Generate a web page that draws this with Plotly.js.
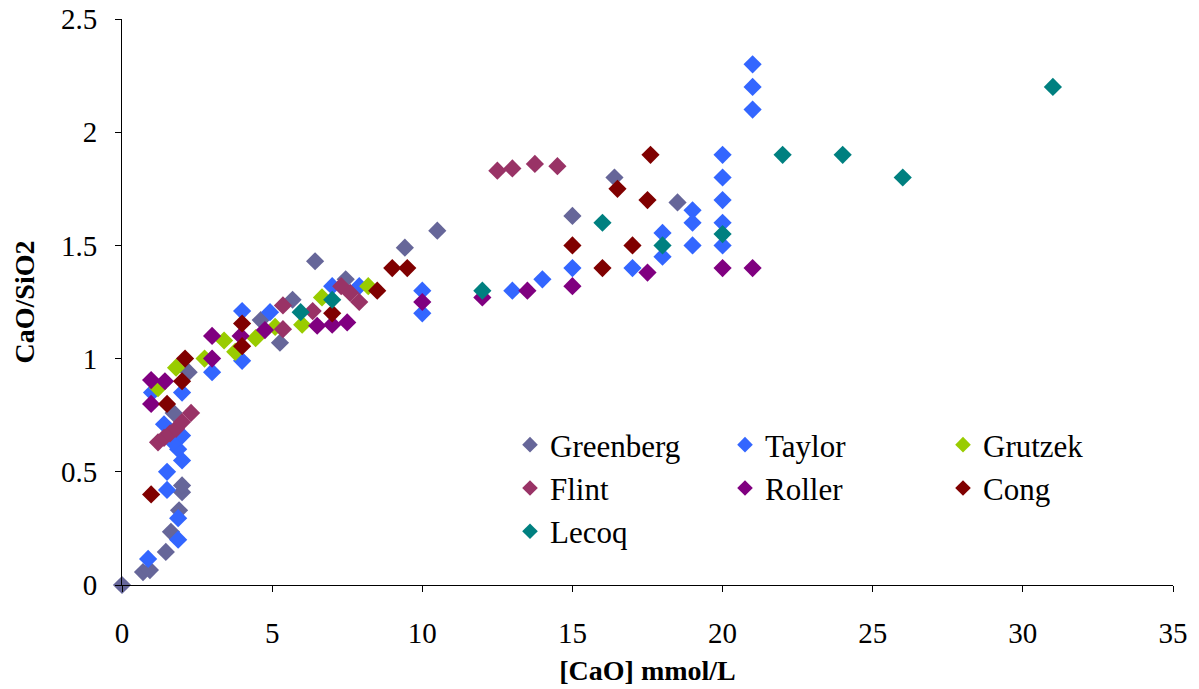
<!DOCTYPE html>
<html>
<head>
<meta charset="utf-8">
<script src="https://cdn.plot.ly/plotly-3.0.1.min.js"></script>
<style>
html,body{margin:0;padding:0;background:#fff;}
#chart{width:1199px;height:689px;}
#chart svg text{font-family:'Liberation Serif','Times New Roman',Times,serif !important;}
</style>
</head>
<body>
<div id="chart"></div>
<script>
// ---- Data ----
const seriesNames = ["Greenberg", "Taylor", "Grutzek", "Flint", "Roller", "Cong", "Lecoq"];

const greenbergX = [0, 0.7, 0.93, 1.46, 1.63, 1.9, 2.0, 2.0, 1.72, 2.22, 4.62, 5.26, 5.68, 6.43, 7.45, 9.42, 10.5, 15.0, 16.4, 18.5];
const greenbergY = [0, 0.057, 0.066, 0.146, 0.235, 0.33, 0.41, 0.44, 0.76, 0.94, 1.17, 1.07, 1.26, 1.43, 1.35, 1.49, 1.565, 1.63, 1.80, 1.69];

const taylorX = [0.87, 1.87, 1.87, 1.5, 1.5, 2.0, 1.87, 1.7, 2.0, 1.4, 2.0, 1.0, 3.0, 4.0, 4.0, 4.93, 7.0, 7.9, 10, 10, 13, 14, 15, 17, 18, 18, 19, 19, 19, 20, 20, 20, 20, 20, 21, 21, 21];
const taylorY = [0.115, 0.2, 0.295, 0.42, 0.5, 0.55, 0.6, 0.63, 0.66, 0.71, 0.85, 0.85, 0.94, 1.21, 0.99, 1.205, 1.32, 1.32, 1.30, 1.20, 1.30, 1.35, 1.40, 1.40, 1.555, 1.45, 1.655, 1.60, 1.50, 1.90, 1.80, 1.70, 1.60, 1.50, 2.30, 2.20, 2.10];

const grutzekX = [1.2, 1.8, 2.75, 3.4, 3.77, 4.45, 5.1, 6.0, 6.66, 8.2];
const grutzekY = [0.87, 0.96, 1.0, 1.08, 1.03, 1.09, 1.14, 1.15, 1.27, 1.32];

const flintX = [1.2, 1.4, 1.6, 1.8, 2.0, 2.3, 5.36, 5.36, 6.35, 7.3, 7.6, 7.9, 12.5, 13.0, 13.75, 14.5];
const flintY = [0.63, 0.65, 0.67, 0.69, 0.72, 0.76, 1.235, 1.13, 1.21, 1.32, 1.29, 1.25, 1.83, 1.84, 1.86, 1.85];

const rollerX = [0.97, 0.97, 1.43, 3.0, 3.0, 3.95, 4.76, 6.5, 7.0, 7.5, 10, 12, 13.5, 15, 17.5, 20, 21];
const rollerY = [0.905, 0.80, 0.90, 1.10, 1.0, 1.10, 1.126, 1.145, 1.15, 1.16, 1.25, 1.27, 1.30, 1.32, 1.38, 1.40, 1.40];

const congX = [0.97, 1.5, 2.0, 2.1, 4.0, 4.0, 7.0, 8.5, 9.0, 9.5, 15, 16, 16.5, 17, 17.5, 17.6];
const congY = [0.40, 0.80, 0.90, 1.0, 1.155, 1.055, 1.20, 1.30, 1.40, 1.40, 1.50, 1.40, 1.75, 1.50, 1.70, 1.90];

const lecoqX = [5.95, 7.0, 12, 16, 18, 20, 22, 24, 26, 31];
const lecoqY = [1.205, 1.26, 1.30, 1.60, 1.50, 1.55, 1.90, 1.90, 1.80, 2.20];

const xTickVals = [0, 5, 10, 15, 20, 25, 30, 35];
const yTickVals = [0, 0.5, 1, 1.5, 2, 2.5];
const yTickText = ["0", "0.5", "1", "1.5", "2", "2.5"];

// ---- Styling ----
const colors = ["#666699", "#3366FF", "#99CC00", "#993366", "#800080", "#800000", "#008080"];
// legend column each series is listed in (3 columns like the original)
const legendIds = ["legend", "legend2", "legend3", "legend", "legend2", "legend3", "legend"];
const xs = [greenbergX, taylorX, grutzekX, flintX, rollerX, congX, lecoqX];
const ys = [greenbergY, taylorY, grutzekY, flintY, rollerY, congY, lecoqY];
const FONT = "Liberation Serif";

const traces = seriesNames.map((name, i) => ({
  type: "scatter",
  mode: "markers",
  name: name,
  legend: legendIds[i],
  showlegend: true,
  x: xs[i],
  y: ys[i],
  cliponaxis: false,
  marker: { symbol: "diamond", size: 14, color: colors[i], line: { width: 0 } }
}));

function legendAt(px, py) {
  return {
    orientation: "v",
    x: (px - 122) / 1051,
    xanchor: "left",
    y: (585 - py) / 566,
    yanchor: "top",
    bgcolor: "rgba(0,0,0,0)",
    borderwidth: 0,
    font: { family: FONT, size: 31, color: "#000" },
    itemsizing: "constant"
  };
}

const layout = {
  width: 1199,
  height: 689,
  margin: { l: 122, r: 26, t: 19, b: 104 },
  paper_bgcolor: "#ffffff",
  plot_bgcolor: "#ffffff",
  font: { family: FONT, color: "#000000", size: 26 },
  showlegend: true,
  xaxis: {
    range: [0, 35],
    tickvals: xTickVals,
    ticks: "outside",
    ticklen: 6,
    tickcolor: "#000",
    showline: true,
    linecolor: "#000",
    linewidth: 1,
    showgrid: false,
    zeroline: false,
    ticklabelstandoff: 16,
    tickfont: { family: FONT, size: 29, color: "#000" },
    title: { text: "[CaO] mmol/L", font: { family: FONT, size: 28, color: "#000", weight: "bold" }, standoff: 12 },
    automargin: false
  },
  yaxis: {
    range: [0, 2.5],
    tickvals: yTickVals,
    ticktext: yTickText,
    ticks: "outside",
    ticklen: 6,
    tickcolor: "#000",
    showline: true,
    linecolor: "#000",
    linewidth: 1,
    showgrid: false,
    zeroline: false,
    ticklabelstandoff: 12,
    tickfont: { family: FONT, size: 29, color: "#000" },
    title: { text: "CaO/SiO2", font: { family: FONT, size: 28, color: "#000", weight: "bold" }, standoff: 18 },
    automargin: false
  },
  legend: legendAt(510, 418),
  legend2: legendAt(725, 418),
  legend3: legendAt(943, 418)
};

Plotly.newPlot("chart", traces, layout, { displayModeBar: false });
</script>
</body>
</html>
